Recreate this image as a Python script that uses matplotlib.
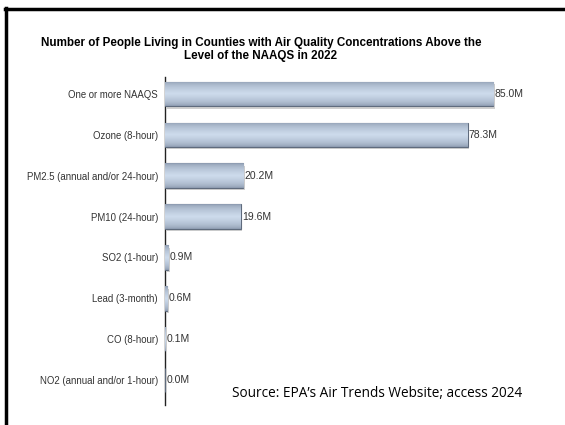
import matplotlib
matplotlib.use("Agg")
import matplotlib.pyplot as plt
import numpy as np
from matplotlib.lines import Line2D

categories = ["One or more NAAQS", "Ozone (8-hour)", "PM2.5 (annual and/or 24-hour)",
              "PM10 (24-hour)", "SO2 (1-hour)", "Lead (3-month)", "CO (8-hour)",
              "NO2 (annual and/or 1-hour)"]
values = [85.0, 78.3, 20.2, 19.6, 0.9, 0.6, 0.1, 0.0]
title = "Number of People Living in Counties with Air Quality Concentrations Above the\nLevel of the NAAQS in 2022"
source = "Source: EPA\u2019s Air Trends Website; access 2024"

plt.rcParams['font.family'] = ['Liberation Sans', 'DejaVu Sans']

fig = plt.figure(figsize=(5.65, 4.25), dpi=100)
ax = fig.add_axes([0.292, 0.047, 0.673, 0.772])

y = np.arange(len(categories))
bars = ax.barh(y, values, height=0.6, color='#c3d1e2', edgecolor='#5f6b7d', linewidth=0.8, zorder=3)

# vertical gradient inside each bar (dark edges, light middle)
grad = np.concatenate([np.linspace(0.0, 1.0, 50), np.linspace(1.0, 0.0, 50)])
grad = np.sqrt(grad).reshape(-1, 1)
cmap = matplotlib.colors.LinearSegmentedColormap.from_list('g', ['#8593a8', '#cddbec'])
for b in bars:
    if b.get_width() <= 0:
        continue
    x0, y0 = b.get_x(), b.get_y()
    w, h = b.get_width(), b.get_height()
    im = ax.imshow(grad, extent=[x0, x0 + w, y0 + h, y0], aspect='auto', cmap=cmap, zorder=3.5)
    im.set_clip_path(b)
    # shadow
    ax.add_patch(plt.Rectangle((x0 + 0.4, y0 + 0.06), w, h, color='#d0d0d0', zorder=2, lw=0))

for yi, v in zip(y, values):
    ax.text(v + 0.3, yi, f"{v:.1f}M", va='center', ha='left', fontsize=7.5, color='#333333', zorder=5)

ax.set_ylim(len(categories) - 1 + 0.61, -0.415)
ax.set_xlim(0, 98.4)
ax.set_yticks(y)
ax.set_yticklabels(categories, fontsize=6.9, color='#333333')
ax.tick_params(axis='y', length=0, pad=5)
ax.set_xticks([])
for s in ['top', 'right', 'bottom']:
    ax.spines[s].set_visible(False)
ax.spines['left'].set_linewidth(1.0)
ax.spines['left'].set_color('#222222')

fig.text(0.462, 0.884, title, ha='center', va='center', fontsize=8.4, fontweight='bold',
         linespacing=1.05)
fig.text(0.41, 0.075, source, ha='left', va='center', fontsize=9.8, family=['Open Sans', 'DejaVu Sans'])

# frame lines (top and left)
fig.add_artist(Line2D([0.009, 1.0], [0.980, 0.980], transform=fig.transFigure, color='black', lw=2.5))
fig.add_artist(Line2D([0.011, 0.011], [0.982, 0.0], transform=fig.transFigure, color='black', lw=2.5))

fig.savefig("out.png", dpi=100)
